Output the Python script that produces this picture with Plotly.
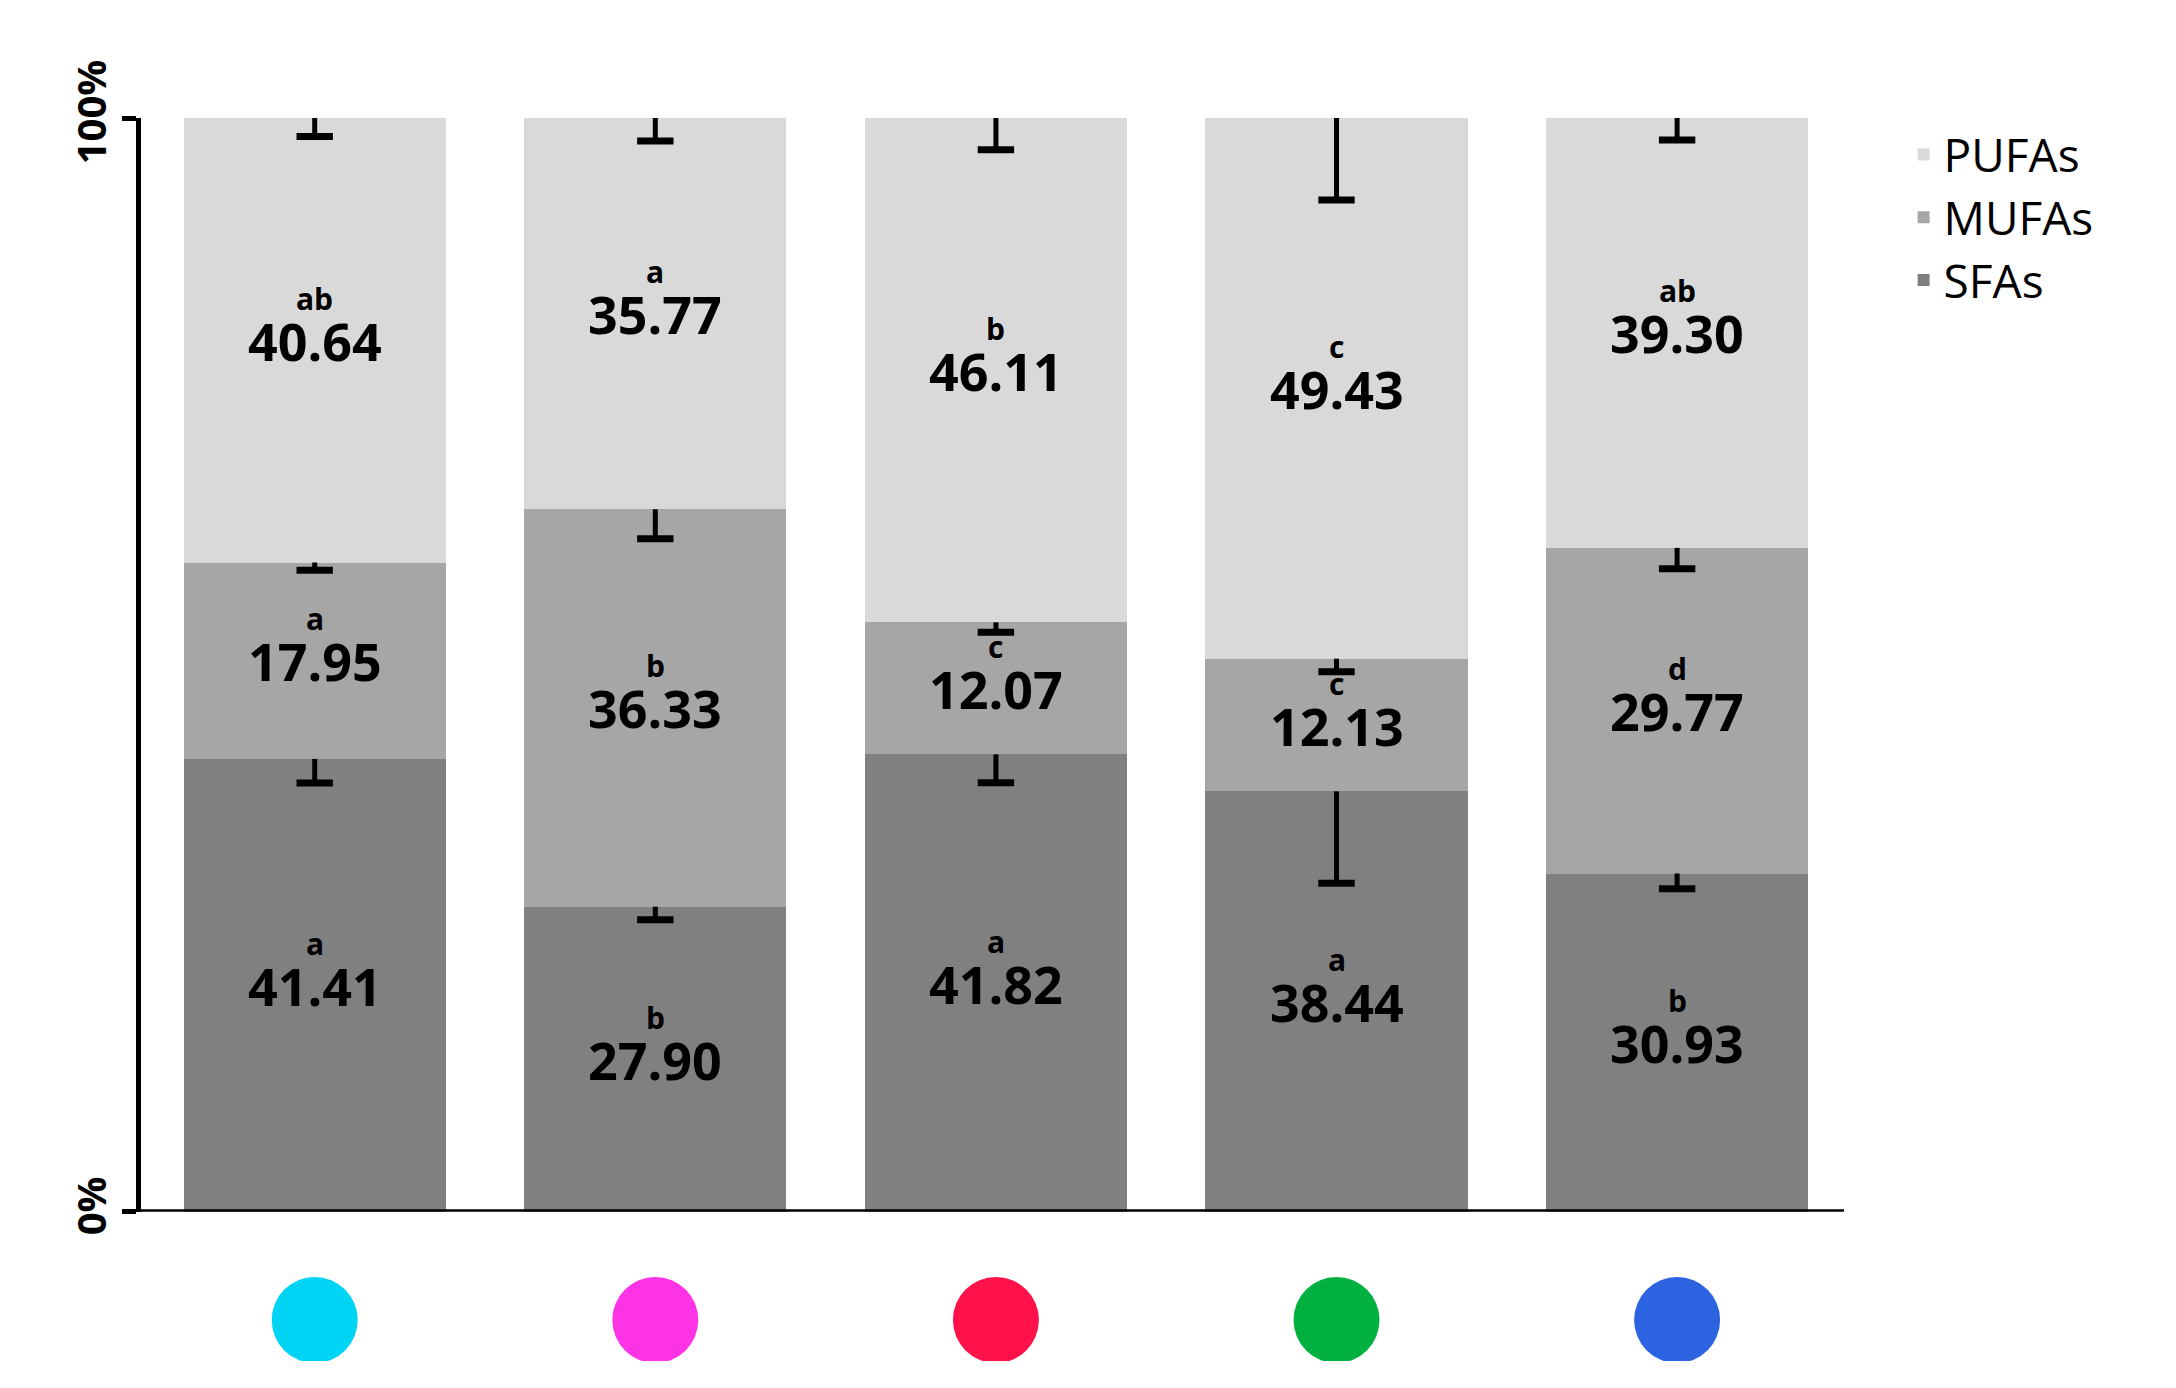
import plotly.graph_objects as go

groups = ["G1", "G2", "G3", "G4", "G5"]
dot_colors = ["#00d4f5", "#ff33e6", "#ff1149", "#00b140", "#2b63e0"]
sfa = [41.41, 27.90, 41.82, 38.44, 30.93]
mufa = [17.95, 36.33, 12.07, 12.13, 29.77]
pufa = [40.64, 35.77, 46.11, 49.43, 39.30]
sfa_err = [2.2, 1.2, 2.6, 8.4, 1.4]
mufa_err = [0.7, 2.7, 0.9, 1.2, 1.9]
pufa_err = [1.7, 2.1, 2.9, 7.5, 2.0]
sfa_let = ["a", "b", "a", "a", "b"]
mufa_let = ["a", "b", "c", "c", "d"]
pufa_let = ["ab", "a", "b", "c", "ab"]

series = [("SFAs", sfa, sfa_err, sfa_let, "#808080"),
          ("MUFAs", mufa, mufa_err, mufa_let, "#a6a6a6"),
          ("PUFAs", pufa, pufa_err, pufa_let, "#d9d9d9")]

fig = go.Figure()
base = [0.0] * 5
annotations = []
err_x, err_y, cap_x, cap_y = [], [], [], []
for name, vals, errs, lets, col in series:
    fig.add_trace(go.Bar(x=groups, y=vals, name=name, marker_color=col,
                         marker_line_width=0, width=0.77, showlegend=False))
    for i, g in enumerate(groups):
        top = base[i] + vals[i]
        mid = base[i] + vals[i] / 2
        annotations.append(dict(x=g, y=mid, text="<b>%.2f</b>" % vals[i], showarrow=False,
                                font=dict(size=52, color="black", family="Open Sans")))
        annotations.append(dict(x=g, y=mid, yshift=42, text="<b>%s</b>" % lets[i], showarrow=False,
                                font=dict(size=30, color="black", family="Open Sans")))
        err_x += [g, g, None]
        err_y += [top, top - errs[i], None]
        cap_x.append(g)
        cap_y.append(top - errs[i])
        base[i] = top

fig.add_trace(go.Scatter(x=err_x, y=err_y, mode="lines", line=dict(color="black", width=5),
                         showlegend=False, hoverinfo="skip"))
fig.add_trace(go.Scatter(x=cap_x, y=cap_y, mode="markers", showlegend=False, hoverinfo="skip",
                         marker=dict(symbol="line-ew", size=26, line=dict(color="black", width=7))))

# legend proxies
for name, vals, errs, lets, col in series:
    fig.add_trace(go.Scatter(x=[None], y=[None], mode="markers", name=name,
                             marker=dict(symbol="square", size=40, color=col)))

# colored dots under the bars
fig.add_trace(go.Scatter(x=groups, y=[0.3] * 5, mode="markers", showlegend=False,
                         xaxis="x", yaxis="y2", hoverinfo="skip",
                         marker=dict(size=86, color=dot_colors)))

fig.update_layout(
    width=2176, height=1388, barmode="stack",
    margin=dict(l=133, r=340, t=110, b=20),
    plot_bgcolor="white", paper_bgcolor="white",
    annotations=annotations,
    legend=dict(x=1.035, y=1.0, xanchor="left", yanchor="top", traceorder="reversed",
                font=dict(size=46, family="Open Sans", color="black"), itemsizing="constant"),
    xaxis=dict(range=[-0.51, 4.49], showticklabels=False, ticks="", showline=False,
               showgrid=False, zeroline=False),
    yaxis=dict(domain=[0.12, 1], range=[0, 100], tickvals=[0, 100],
               ticktext=["<b>0%</b>", "<b>100%</b>"],
               tickangle=-90, ticks="outside", ticklen=14, tickwidth=5, tickcolor="black",
               showline=True, linecolor="black", linewidth=5, showgrid=False, zeroline=False,
               tickfont=dict(size=40, family="Open Sans", color="black")),
    yaxis2=dict(domain=[0, 0.11], range=[0, 1], visible=False),
    shapes=[dict(type="line", xref="paper", yref="y", x0=-0.01, x1=1, y0=0, y1=0,
                 line=dict(color="black", width=5))],
)
fig.write_html("out.html")
